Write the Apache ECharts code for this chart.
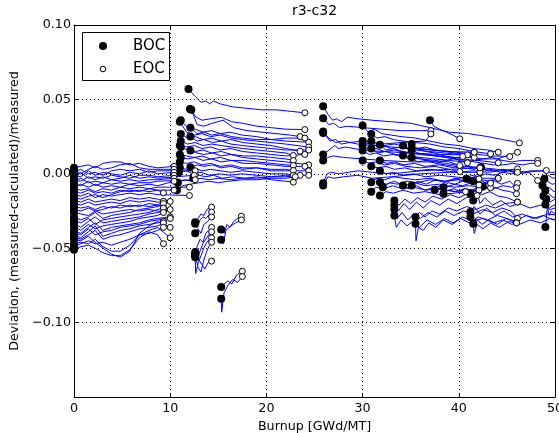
<!DOCTYPE html>
<html>
<head>
<meta charset="utf-8">
<script src="https://cdn.jsdelivr.net/npm/echarts@6/dist/echarts.min.js"></script>
<style>html,body{margin:0;padding:0;background:#fff;overflow:hidden}#c{width:559px;height:433px}</style>
</head>
<body>
<div id="c"></div>
<script>
// ---- data: each line is a list of [burnup (GWd/MT), deviation] ----
const titleText = 'r3-c32';
const legendNames = ['BOC', 'EOC'];
const xTicks = [0, 10, 20, 30, 40, 50];
const yTicks = [-0.15, -0.10, -0.05, 0.00, 0.05, 0.10];

const cycle1 = [
 [[0,0.004],[0.7,0.005],[1.5,0.006],[2.2,0.004],[3.0,0.007],[3.9,0.008],[4.8,0.008],[5.8,0.006],[6.8,0.007],[7.8,0.005],[8.7,0.004],[10.4,0.005]],
 [[0,0.002],[0.7,0.000],[1.5,0.003],[2.2,0.005],[3.0,0.003],[3.9,0.004],[4.8,0.006],[5.8,0.007],[6.8,0.004],[7.8,0.003],[8.7,0.003],[10.4,0.003]],
 [[0,0.001],[0.7,0.003],[1.5,0.000],[2.2,0.001],[3.0,-0.001],[3.9,0.002],[4.8,0.003],[5.8,0.002],[6.8,0.003],[7.8,0.001],[8.7,0.002],[12.6,0.002]],
 [[0,-0.001],[0.7,-0.002],[1.5,0.002],[2.2,-0.001],[3.0,0.001],[3.9,0.000],[4.8,-0.001],[5.8,0.001],[6.8,0.000],[7.8,0.002],[8.7,0.000],[10.4,0.001]],
 [[0,-0.002],[0.7,0.001],[1.5,-0.003],[2.2,-0.002],[3.0,-0.003],[3.9,-0.001],[4.8,-0.002],[5.8,-0.003],[6.8,-0.001],[7.8,-0.001],[8.7,-0.002],[10.4,-0.001]],
 [[0,-0.004],[0.7,-0.005],[1.5,-0.002],[2.2,-0.004],[3.0,-0.002],[3.9,-0.004],[4.8,-0.003],[5.8,-0.001],[6.8,-0.003],[7.8,-0.002],[8.7,-0.003],[12.5,-0.001]],
 [[0,-0.005],[0.7,-0.003],[1.5,-0.006],[2.2,-0.005],[3.0,-0.006],[3.9,-0.004],[4.8,-0.005],[5.8,-0.004],[6.8,-0.005],[7.8,-0.004],[8.7,-0.004],[10.4,-0.003]],
 [[0,-0.007],[0.7,-0.008],[1.5,-0.005],[2.2,-0.008],[3.0,-0.006],[3.9,-0.007],[4.8,-0.006],[5.8,-0.007],[6.8,-0.006],[7.8,-0.006],[8.7,-0.005],[12.6,-0.004]],
 [[0,-0.009],[0.7,-0.007],[1.5,-0.009],[2.2,-0.007],[3.0,-0.009],[3.9,-0.008],[4.8,-0.009],[5.8,-0.007],[6.8,-0.008],[7.8,-0.007],[8.7,-0.008],[10.4,-0.005]],
 [[0,-0.010],[0.7,-0.011],[1.5,-0.010],[2.2,-0.012],[3.0,-0.010],[3.9,-0.011],[4.8,-0.009],[5.8,-0.010],[6.8,-0.009],[7.8,-0.010],[8.7,-0.009],[12.0,-0.009]],
 [[0,-0.012],[0.7,-0.013],[1.5,-0.011],[2.2,-0.013],[3.0,-0.012],[3.9,-0.013],[4.8,-0.011],[5.8,-0.012],[6.8,-0.011],[7.8,-0.012],[8.7,-0.011],[10.4,-0.011]],
 [[0,-0.014],[0.7,-0.015],[1.5,-0.013],[2.2,-0.016],[3.0,-0.014],[3.9,-0.015],[4.8,-0.014],[5.8,-0.013],[6.8,-0.014],[7.8,-0.013],[8.7,-0.014],[12.0,-0.0146]],
 [[0,-0.016],[0.7,-0.017],[1.5,-0.015],[2.2,-0.014],[3.0,-0.016],[3.9,-0.014],[4.8,-0.012],[5.8,-0.011],[6.8,-0.012],[7.8,-0.010],[8.7,-0.011],[9.3,-0.0128]],
 [[0,-0.018],[0.7,-0.019],[1.5,-0.017],[2.2,-0.019],[3.0,-0.018],[3.9,-0.017],[4.8,-0.018],[5.8,-0.016],[6.8,-0.017],[7.8,-0.016],[8.7,-0.017],[9.3,-0.0186]],
 [[0,-0.020],[0.7,-0.021],[1.5,-0.019],[2.2,-0.021],[3.0,-0.020],[3.9,-0.019],[4.8,-0.020],[5.8,-0.018],[6.8,-0.019],[7.8,-0.018],[8.7,-0.019],[10.0,-0.0186]],
 [[0,-0.022],[0.7,-0.023],[1.5,-0.022],[2.2,-0.024],[3.0,-0.022],[3.9,-0.023],[4.8,-0.021],[5.8,-0.022],[6.8,-0.021],[7.8,-0.022],[8.7,-0.021],[9.3,-0.0228]],
 [[0,-0.024],[0.7,-0.025],[1.5,-0.023],[2.2,-0.025],[3.0,-0.024],[3.9,-0.022],[4.8,-0.023],[5.8,-0.021],[6.8,-0.022],[7.8,-0.020],[8.7,-0.021],[9.3,-0.0186]],
 [[0,-0.026],[0.7,-0.027],[1.5,-0.028],[2.2,-0.025],[3.0,-0.027],[3.9,-0.026],[4.8,-0.025],[5.8,-0.024],[6.8,-0.025],[7.8,-0.024],[8.7,-0.025],[9.3,-0.0257]],
 [[0,-0.029],[0.7,-0.031],[1.5,-0.029],[2.2,-0.026],[3.0,-0.030],[3.9,-0.028],[4.8,-0.027],[5.8,-0.026],[6.8,-0.024],[7.8,-0.023],[8.7,-0.022],[9.3,-0.020]],
 [[0,-0.031],[0.7,-0.033],[1.5,-0.030],[2.2,-0.034],[3.0,-0.031],[3.9,-0.030],[4.8,-0.029],[5.8,-0.028],[6.8,-0.027],[7.8,-0.026],[8.7,-0.024],[9.3,-0.023]],
 [[0,-0.033],[0.7,-0.036],[1.5,-0.032],[2.2,-0.029],[3.0,-0.033],[3.9,-0.032],[4.8,-0.031],[5.8,-0.030],[6.8,-0.029],[7.8,-0.027],[8.7,-0.026],[10.0,-0.024]],
 [[0,-0.035],[0.7,-0.038],[1.5,-0.034],[2.2,-0.037],[3.0,-0.035],[3.9,-0.034],[4.8,-0.033],[5.8,-0.032],[6.8,-0.030],[7.8,-0.029],[8.7,-0.028],[9.3,-0.026]],
 [[0,-0.038],[0.7,-0.040],[1.5,-0.036],[2.2,-0.033],[3.0,-0.038],[3.9,-0.036],[4.8,-0.035],[5.8,-0.034],[6.8,-0.033],[7.8,-0.031],[8.7,-0.030],[10.0,-0.029]],
 [[0,-0.0395],[0.7,-0.041],[1.5,-0.037],[2.2,-0.041],[3.0,-0.039],[3.9,-0.038],[4.8,-0.036],[5.8,-0.035],[6.8,-0.034],[7.8,-0.032],[8.7,-0.031],[10.0,-0.030]],
 [[0,-0.041],[0.7,-0.043],[1.5,-0.039],[2.2,-0.035],[3.0,-0.042],[3.9,-0.040],[4.8,-0.038],[5.8,-0.037],[6.8,-0.035],[7.8,-0.034],[8.7,-0.033],[9.3,-0.032]],
 [[0,-0.0425],[0.7,-0.044],[1.5,-0.041],[2.2,-0.038],[3.0,-0.044],[3.9,-0.042],[4.8,-0.041],[5.8,-0.039],[6.8,-0.037],[7.8,-0.036],[8.7,-0.035],[9.3,-0.033]],
 [[0,-0.044],[0.7,-0.045],[1.5,-0.042],[2.2,-0.046],[3.0,-0.050],[3.9,-0.054],[4.8,-0.056],[5.8,-0.052],[6.8,-0.040],[7.8,-0.035],[8.7,-0.032],[10.0,-0.036]],
 [[0,-0.047],[0.7,-0.046],[1.5,-0.047],[2.2,-0.044],[3.0,-0.049],[3.9,-0.052],[4.8,-0.052],[5.8,-0.048],[6.8,-0.041],[7.8,-0.038],[8.7,-0.036],[10.0,-0.043]],
 [[0,-0.049],[0.7,-0.047],[1.5,-0.045],[2.2,-0.047],[3.0,-0.046],[3.9,-0.048],[4.8,-0.046],[5.8,-0.044],[6.8,-0.041],[7.8,-0.040],[8.7,-0.038],[9.3,-0.036]],
 [[0,-0.051],[0.7,-0.049],[1.5,-0.048],[2.2,-0.050],[3.0,-0.053],[3.9,-0.055],[4.8,-0.055],[5.8,-0.051],[6.8,-0.043],[7.8,-0.039],[8.7,-0.041],[9.3,-0.047]]
];

const cycle2a = [
 [[11.9,0.057],[12.6,0.052],[13.2,0.048],[13.7,0.049],[14.1,0.047],[14.5,0.049],[15.2,0.047],[16.5,0.045],[18,0.044],[19.5,0.043],[21,0.043],[22.5,0.042],[24.0,0.041]],
 [[12.05,0.0436],[12.7,0.038],[13.3,0.036],[14.2,0.037],[15.3,0.038],[16.4,0.035],[17.5,0.034],[19,0.032],[20.5,0.031],[22,0.030],[24.0,0.0297]],
 [[12.2,0.043],[12.8,0.033],[13.5,0.032],[14.4,0.034],[15.5,0.036],[16.6,0.031],[18,0.029],[19.5,0.028],[21,0.027],[22.5,0.026],[23.5,0.025]],
 [[11.1,0.036],[11.8,0.031],[12.6,0.030],[13.4,0.028],[14.3,0.029],[15.2,0.027],[16.2,0.028],[17.5,0.026],[19,0.025],[20.5,0.023],[22,0.022],[24.4,0.0212]],
 [[11.0,0.035],[11.7,0.028],[12.5,0.026],[13.3,0.027],[14.2,0.025],[15.2,0.026],[16.3,0.024],[17.5,0.023],[19,0.022],[20.5,0.021],[22,0.020],[24.4,0.018]],
 [[12.1,0.031],[12.8,0.027],[13.5,0.028],[14.3,0.026],[15.2,0.027],[16.4,0.025],[17.5,0.024],[19,0.023],[20.5,0.023],[22,0.024],[24.0,0.024]],
 [[11.1,0.0268],[11.8,0.024],[12.6,0.025],[13.4,0.023],[14.3,0.024],[15.3,0.022],[16.3,0.023],[17.6,0.021],[19,0.020],[20.5,0.019],[22,0.017],[23.5,0.0152]],
 [[12.1,0.025],[12.8,0.022],[13.5,0.023],[14.4,0.021],[15.3,0.022],[16.3,0.020],[17.5,0.019],[19,0.018],[20.5,0.017],[22,0.016],[24.4,0.016]],
 [[11.1,0.022],[11.8,0.020],[12.6,0.021],[13.4,0.019],[14.3,0.020],[15.3,0.019],[16.4,0.018],[17.6,0.017],[19,0.016],[20.5,0.015],[22,0.014],[22.8,0.0123]],
 [[11.0,0.019],[11.7,0.018],[12.5,0.019],[13.3,0.017],[14.2,0.018],[15.2,0.016],[16.3,0.017],[17.5,0.015],[19,0.014],[20.5,0.013],[22,0.012],[24.0,0.013]],
 [[11.1,0.018],[11.8,0.016],[12.6,0.015],[13.4,0.016],[14.3,0.014],[15.3,0.015],[16.4,0.013],[17.6,0.012],[19,0.012],[20.5,0.011],[22,0.010],[22.8,0.0089]],
 [[12.1,0.0156],[12.8,0.014],[13.5,0.013],[14.4,0.014],[15.3,0.012],[16.3,0.013],[17.5,0.011],[19,0.010],[20.5,0.009],[22,0.008],[24.4,0.006]],
 [[11.0,0.013],[11.7,0.012],[12.5,0.011],[13.3,0.012],[14.2,0.010],[15.2,0.011],[16.3,0.009],[17.5,0.009],[19,0.008],[20.5,0.007],[22,0.006],[22.8,0.0056]],
 [[11.1,0.011],[11.8,0.010],[12.6,0.011],[13.4,0.009],[14.3,0.010],[15.3,0.008],[16.4,0.009],[17.6,0.007],[19,0.007],[20.5,0.006],[22,0.005],[24.0,0.005]],
 [[11.0,0.008],[11.7,0.007],[12.5,0.008],[13.3,0.006],[14.2,0.007],[15.2,0.005],[16.3,0.006],[17.5,0.004],[19,0.004],[20.5,0.003],[22,0.003],[22.8,0.0022]],
 [[12.1,0.0044],[12.8,0.006],[13.5,0.005],[14.4,0.006],[15.3,0.004],[16.3,0.005],[17.5,0.003],[19,0.004],[20.5,0.002],[22,0.002],[24.4,0.002]],
 [[11.0,0.004],[11.7,0.003],[12.5,0.004],[13.3,0.002],[14.2,0.003],[15.2,0.002],[16.3,0.001],[17.5,0.002],[19,0.001],[20.5,0.000],[22,0.000],[22.8,-0.001]],
 [[10.9,0.001],[11.6,0.002],[12.4,0.000],[13.2,0.001],[14.1,-0.001],[15.1,0.000],[16.2,-0.001],[17.4,0.000],[19,-0.001],[20.5,-0.002],[22,-0.001],[24.4,-0.001]],
 [[12.4,-0.003],[13.0,-0.001],[13.7,-0.002],[14.5,-0.001],[15.4,-0.003],[16.5,-0.002],[17.8,-0.003],[19,-0.002],[20.5,-0.004],[22,-0.005],[22.8,-0.0056]],
 [[10.8,-0.006],[11.5,-0.004],[12.3,-0.005],[13.1,-0.003],[14.0,-0.004],[15.0,-0.003],[16.2,-0.004],[17.4,-0.003],[19,-0.003],[20.5,-0.002],[22,-0.002],[23.5,-0.001]],
 [[10.7,-0.011],[11.3,-0.008],[12.1,-0.007],[13.0,-0.006],[14,-0.005],[15,-0.006],[16,-0.005],[17.5,-0.004],[19,-0.004],[20.5,-0.003],[22,-0.003],[23.0,-0.002]]
];

const cycle2b = [
 [[12.6,-0.0325],[12.9,-0.030],[13.2,-0.027],[13.5,-0.028],[13.8,-0.024],[14.3,-0.0224]],
 [[12.6,-0.0335],[12.8,-0.036],[13.1,-0.031],[13.4,-0.029],[13.7,-0.030],[14.3,-0.0257]],
 [[12.6,-0.040],[12.9,-0.037],[13.2,-0.040],[13.5,-0.034],[13.9,-0.032],[14.3,-0.029]],
 [[12.6,-0.0526],[12.85,-0.048],[13.1,-0.044],[13.4,-0.046],[13.7,-0.040],[14.0,-0.038],[14.3,-0.036]],
 [[12.6,-0.054],[12.8,-0.058],[13.1,-0.052],[13.4,-0.047],[13.7,-0.044],[14.0,-0.041],[14.3,-0.039]],
 [[12.6,-0.056],[12.65,-0.067],[12.9,-0.060],[13.2,-0.055],[13.5,-0.050],[13.8,-0.046],[14.3,-0.043]],
 [[12.6,-0.055],[12.9,-0.063],[13.2,-0.066],[13.5,-0.058],[13.8,-0.052],[14.1,-0.048],[14.3,-0.046]],
 [[12.6,-0.0545],[12.9,-0.057],[13.3,-0.061],[13.6,-0.064],[13.9,-0.060],[14.3,-0.0587]]
];

const cycle2c = [
 [[15.3,-0.0374],[15.6,-0.040],[15.9,-0.034],[16.2,-0.036],[16.6,-0.032],[17.0,-0.030],[17.4,-0.0285]],
 [[15.3,-0.0443],[15.5,-0.047],[15.8,-0.038],[16.3,-0.035],[16.8,-0.033],[17.4,-0.031]],
 [[15.3,-0.076],[15.6,-0.074],[16.0,-0.072],[16.4,-0.074],[16.9,-0.068],[17.5,-0.0655]],
 [[15.3,-0.0839],[15.35,-0.093],[15.6,-0.080],[16.0,-0.075],[16.5,-0.071],[17.0,-0.073],[17.5,-0.069]]
];

const cycle3a = [
 [[25.9,0.0454],[26.4,0.040],[26.9,0.036],[27.3,0.037],[27.8,0.035],[28.4,0.038],[29.5,0.037],[31,0.036],[33,0.035],[35,0.034],[37,0.031],[39,0.028],[41,0.027],[43,0.025],[46.3,0.0208]],
 [[25.9,0.0373],[26.5,0.033],[27.0,0.034],[27.6,0.031],[28.4,0.032],[30,0.031],[32,0.030],[34,0.029],[36,0.029],[37.1,0.029]],
 [[25.9,0.0284],[26.6,0.022],[27.2,0.023],[27.8,0.020],[28.6,0.021],[30,0.022],[32,0.020],[34,0.021],[36.5,0.022],[37.1,0.0268]],
 [[25.9,0.0275],[26.5,0.024],[27.2,0.021],[28,0.022],[29.5,0.020],[31,0.019],[33,0.018],[35,0.017],[37,0.016],[39,0.015],[41.6,0.0145]],
 [[25.9,0.013],[26.5,0.016],[27.1,0.019],[27.5,0.017],[28.2,0.018],[30,0.016],[32,0.015],[35,0.014],[38,0.013],[40.9,0.0127]],
 [[25.9,0.009],[26.4,0.011],[27,0.012],[28,0.011],[30,0.010],[32,0.009],[35,0.008],[38,0.008],[40.4,0.0116]],
 [[25.9,-0.0063],[26.3,0.000],[26.8,0.001],[27.5,0.000],[28.5,0.001],[29.5,0.002],[31,0.001],[33,0.000],[36,0.002],[39,0.003],[42.2,0.004]],
 [[25.9,-0.0078],[26.4,-0.002],[27,-0.003],[28,-0.002],[29.5,-0.001],[31,-0.003],[33,-0.002],[36,0.000],[39,0.001],[42.2,0.001]]
];

const cycle3b = [
 [[30.0,0.0324],[30.6,0.028],[31.2,0.030],[32,0.027],[33,0.026],[34,0.025],[35.5,0.024],[37,0.022],[38.5,0.020],[40,0.019],[41.5,0.017],[43,0.016],[44.1,0.0145]],
 [[30.9,0.0268],[31.5,0.024],[32.3,0.025],[33.2,0.023],[34.2,0.022],[35.5,0.021],[37,0.020],[38.5,0.018],[40,0.017],[41.5,0.015],[43.3,0.0134]],
 [[30.0,0.022],[30.6,0.020],[31.3,0.021],[32.2,0.019],[33.3,0.020],[34.5,0.018],[36,0.017],[37.5,0.016],[39,0.015],[40.5,0.014],[42,0.013],[43.5,0.012],[45.3,0.0116]],
 [[30.9,0.022],[31.5,0.018],[32.2,0.019],[33,0.017],[34,0.018],[35.5,0.016],[37,0.015],[38.5,0.014],[40,0.013],[41.6,0.011]],
 [[30.0,0.019],[30.7,0.016],[31.4,0.017],[32.3,0.015],[33.3,0.016],[34.5,0.014],[36,0.013],[37.5,0.012],[39,0.011],[40.9,0.0074]],
 [[30.0,0.0156],[30.7,0.013],[31.4,0.014],[32.2,0.012],[33.2,0.013],[34.5,0.011],[36,0.010],[37.5,0.009],[39,0.008],[40.1,0.0056]],
 [[30.9,0.017],[31.6,0.014],[32.4,0.015],[33.4,0.013],[34.5,0.012],[36,0.011],[37.5,0.010],[39,0.009],[40.5,0.008],[42,0.009],[44.1,0.0074]],
 [[31.8,0.0195],[32.4,0.016],[33.2,0.017],[34.2,0.015],[35.3,0.014],[36.5,0.013],[38,0.012],[39.5,0.011],[41,0.011],[42.5,0.010],[44,0.010],[46.1,0.0145]],
 [[30.0,0.009],[30.7,0.007],[31.4,0.008],[32.3,0.006],[33.3,0.007],[34.5,0.005],[36,0.004],[37.5,0.005],[39,0.003],[40.1,0.0015]],
 [[30.9,0.005],[31.6,0.004],[32.4,0.005],[33.3,0.003],[34.4,0.004],[35.6,0.002],[37,0.003],[38.5,0.002],[40,0.001],[41.5,0.002],[43,0.001],[46.1,0.0033]],
 [[31.8,0.009],[32.5,0.007],[33.3,0.008],[34.3,0.006],[35.4,0.007],[36.5,0.005],[38,0.006],[39.5,0.004],[41,0.005],[42.5,0.004],[44,0.003],[46.1,0.001]],
 [[31.8,0.002],[32.4,0.000],[33.2,0.001],[34.2,-0.001],[35.3,0.000],[36.5,-0.002],[38,-0.001],[39.5,-0.002],[41,-0.003],[42.5,-0.003],[44.1,-0.003]],
 [[30.9,-0.0056],[31.5,-0.003],[32.3,-0.004],[33.2,-0.002],[34.2,-0.003],[35.5,-0.004],[37,-0.003],[38.5,-0.005],[40,-0.004],[41.5,-0.006],[43.3,-0.0063]],
 [[31.8,-0.0056],[32.5,-0.007],[33.3,-0.005],[34.3,-0.008],[35.4,-0.006],[36.5,-0.008],[38,-0.007],[39.5,-0.009],[41,-0.008],[43.3,-0.0094]],
 [[30.9,-0.012],[31.4,-0.009],[32.2,-0.010],[33.1,-0.008],[34.1,-0.010],[35.3,-0.009],[36.6,-0.011],[38,-0.010],[39.5,-0.012],[40.5,-0.011],[42.1,-0.011]],
 [[31.8,-0.0146],[32.4,-0.012],[33.2,-0.013],[34.2,-0.011],[35.3,-0.013],[36.5,-0.012],[38,-0.014],[39.5,-0.013],[40.7,-0.012]],
 [[32.1,-0.009],[32.8,-0.006],[33.6,-0.007],[34.6,-0.005],[35.7,-0.006],[37,-0.004],[38.5,-0.005],[40,-0.003],[41,-0.002],[42.1,-0.0034]]
];

const cycle3c = [
 [[33.3,-0.018],[33.8,-0.021],[34.4,-0.017],[35,-0.020],[35.7,-0.016],[36.5,-0.019],[37.3,-0.015],[38.2,-0.017],[39.1,-0.014],[40,-0.016],[41,-0.013],[42.1,-0.011]],
 [[33.3,-0.021],[33.7,-0.025],[34.3,-0.020],[34.9,-0.024],[35.6,-0.019],[36.3,-0.023],[37.1,-0.018],[38,-0.021],[38.9,-0.017],[39.8,-0.020],[40.8,-0.016],[41.9,-0.0146]],
 [[33.3,-0.024],[33.6,-0.030],[34.1,-0.026],[34.7,-0.031],[35.3,-0.027],[36,-0.030],[36.8,-0.026],[37.7,-0.029],[38.6,-0.025],[39.5,-0.028],[40.5,-0.025],[41.5,-0.027],[42.5,-0.024],[43.5,-0.026],[44.5,-0.023],[45.4,-0.025],[46.1,-0.030]],
 [[33.3,-0.028],[33.5,-0.036],[34,-0.031],[34.6,-0.035],[35.2,-0.032],[35.9,-0.036],[36.7,-0.031],[37.6,-0.034],[38.5,-0.030],[39.4,-0.033],[40.4,-0.029],[41.5,-0.032],[42.5,-0.030],[43.6,-0.033],[44.6,-0.031],[45.5,-0.034],[46.0,-0.033]],
 [[35.5,-0.029],[35.9,-0.026],[36.5,-0.029],[37.2,-0.025],[38,-0.027],[38.9,-0.023],[39.8,-0.025],[40.8,-0.022],[41.8,-0.024],[42.8,-0.021],[43.8,-0.023],[44.8,-0.020],[46.1,-0.019]],
 [[35.5,-0.0336],[35.55,-0.045],[35.8,-0.036],[36.3,-0.038],[36.9,-0.033],[37.6,-0.036],[38.4,-0.031],[39.3,-0.034],[40.2,-0.030],[41.1,-0.033],[42,-0.029],[43,-0.031],[44,-0.028],[45,-0.030],[46.0,-0.033]],
 [[34.2,-0.0078],[34.8,-0.010],[35.6,-0.008],[36.5,-0.011],[37.5,-0.009],[38.5,-0.012],[39.5,-0.010],[40.5,-0.013],[41.5,-0.011],[42.1,-0.0075]],
 [[35.1,-0.0078],[35.7,-0.005],[36.6,-0.007],[37.6,-0.004],[38.6,-0.006],[39.6,-0.003],[40.6,-0.005],[41.6,-0.002],[42.2,0.001]]
];

const cycle3d = [
 [[34.2,0.019],[34.8,0.016],[35.6,0.017],[36.5,0.015],[37.5,0.014],[38.5,0.012],[39.5,0.011],[40.5,0.010],[41.5,0.009],[42.5,0.010],[43.5,0.011],[44.5,0.009],[45.5,0.008],[46.5,0.009],[48.2,0.009]],
 [[35.1,0.020],[35.7,0.017],[36.5,0.018],[37.5,0.016],[38.5,0.015],[39.5,0.014],[40.5,0.013],[41.6,0.0145]],
 [[35.1,0.0164],[35.7,0.014],[36.6,0.013],[37.6,0.012],[38.6,0.011],[39.6,0.010],[40.6,0.009],[41.6,0.008],[42.6,0.007],[43.6,0.006],[44.6,0.006],[45.6,0.007],[46.6,0.006],[47.5,0.007],[48.2,0.007]],
 [[34.2,0.0123],[34.8,0.010],[35.7,0.011],[36.6,0.009],[37.6,0.008],[38.6,0.007],[39.6,0.006],[40.6,0.005],[41.6,0.004],[42.6,0.003],[43.6,0.002],[44.6,0.003],[45.6,0.002],[47,0.001],[48.5,0.002],[49.1,0.0022]],
 [[35.1,0.011],[35.7,0.008],[36.6,0.009],[37.6,0.007],[38.6,0.006],[39.6,0.005],[40.6,0.004],[41.6,0.003],[42.2,0.004]]
];

const cycle4 = [
 [[37.0,0.036],[37.4,0.032],[38,0.030],[38.7,0.028],[39.4,0.026],[40.1,0.0235]],
 [[37.5,-0.0107],[38,-0.008],[38.7,-0.009],[39.5,-0.007],[40.4,-0.008],[41.3,-0.006],[42.3,-0.007],[43.3,-0.0063]],
 [[38.4,-0.009],[38.9,-0.006],[39.6,-0.007],[40.4,-0.005],[41.3,-0.006],[42.3,-0.004],[43.3,-0.005],[44.1,-0.003]],
 [[38.4,-0.0134],[38.9,-0.011],[39.7,-0.012],[40.6,-0.010],[41.6,-0.011],[42.6,-0.009],[43.6,-0.010],[44.6,-0.008],[45.5,-0.009],[46.1,-0.0063]],
 [[40.8,-0.0034],[41.3,-0.001],[42,-0.002],[42.8,0.000],[43.7,-0.001],[44.6,0.001],[45.5,0.000],[46.5,0.001],[47.5,0.002],[48.5,0.002],[49.5,0.001],[50.5,0.001]],
 [[41.5,-0.005],[42,-0.003],[42.7,-0.006],[43.5,-0.004],[44.4,-0.007],[45.3,-0.005],[46,-0.0094]],
 [[42.3,0.0044],[42.8,0.002],[43.5,0.003],[44.3,0.001],[45.2,0.002],[46.2,0.000],[47.3,0.001],[48.2,-0.0045]],
 [[42.5,-0.0085],[43,-0.010],[43.7,-0.009],[44.5,-0.011],[45.3,-0.012],[46,-0.0134]],
 [[41.2,-0.0134],[41.7,-0.011],[42.4,-0.014],[43.2,-0.012],[44.1,-0.015],[45,-0.016],[46.1,-0.019]],
 [[41.5,-0.018],[41.9,-0.013],[42.2,-0.020],[42.7,-0.016],[43.5,-0.021],[44.4,-0.018],[45.3,-0.022],[46.3,-0.020],[47.4,-0.023],[48.5,-0.021],[49.5,-0.024],[50.5,-0.022]],
 [[41.2,-0.0257],[41.6,-0.022],[42.2,-0.027],[42.9,-0.023],[43.8,-0.028],[44.7,-0.025],[45.6,-0.029],[46.6,-0.027],[47.7,-0.030],[48.8,-0.028],[49.8,-0.031],[50.5,-0.029]],
 [[41.2,-0.029],[41.4,-0.035],[41.8,-0.030],[42.4,-0.034],[43.1,-0.031],[44,-0.034],[44.9,-0.030],[45.9,-0.032],[47,-0.028],[48.1,-0.030],[49.2,-0.027],[50.5,-0.028]],
 [[41.5,-0.0336],[41.6,-0.040],[41.9,-0.034],[42.5,-0.037],[43.3,-0.033],[44.2,-0.036],[45.2,-0.032],[46.3,-0.034],[47.4,-0.031],[48.5,-0.033],[49.5,-0.030],[50.5,-0.032]]
];

const cycle5 = [
 [[48.9,-0.0034],[49.3,-0.001],[49.8,-0.003],[50.5,-0.002]],
 [[48.7,-0.0078],[49.2,-0.005],[49.7,-0.007],[50.5,-0.006]],
 [[49.0,-0.011],[49.4,-0.009],[49.9,-0.012],[50.5,-0.010]],
 [[48.8,-0.015],[49.3,-0.013],[49.8,-0.016],[50.5,-0.014]],
 [[49.1,-0.017],[49.5,-0.019],[50.0,-0.017],[50.5,-0.018]],
 [[49.0,-0.0206],[49.4,-0.023],[49.9,-0.021],[50.5,-0.022]],
 [[49.0,-0.0358],[49.1,-0.030],[49.2,-0.022],[49.4,-0.028],[49.6,-0.025],[50.0,-0.027],[50.5,-0.026]]
];

// ---- build ----
const allLines = [].concat(cycle1, cycle2a, cycle2b, cycle2c, cycle3a, cycle3b, cycle3c, cycle3d, cycle4, cycle5);
const xMax = xTicks[xTicks.length - 1];
const bocPoints = allLines.map(l => l[0]).filter(p => p[0] <= xMax);
const eocPoints = allLines.map(l => l[l.length - 1]).filter(p => p[0] <= xMax);

const FONT = 'DejaVu Sans';
const fmtY = v => {
  if (Math.abs(v - yTicks[0]) < 1e-9) return '';
  const s = Math.abs(v).toFixed(2);
  return v < -1e-9 ? '\u2212' + s : s;
};

const series = allLines.map(l => ({
  type: 'line', data: l, symbol: 'none', xAxisIndex: 0, yAxisIndex: 0,
  lineStyle: { color: '#0000ff', width: 1 }, silent: true, z: 2, clip: true
}));
series.push({
  name: legendNames[0], type: 'scatter', data: bocPoints, symbol: 'circle', symbolSize: 8,
  xAxisIndex: 0, yAxisIndex: 0, itemStyle: { color: '#000', opacity: 1 }, z: 4
});
series.push({
  name: legendNames[1], type: 'scatter', data: eocPoints, symbol: 'circle', symbolSize: 6,
  xAxisIndex: 0, yAxisIndex: 0, itemStyle: { color: '#fff', borderColor: '#000', borderWidth: 1, opacity: 1 }, z: 5
});

const axisCommonX = { type: 'value', min: xTicks[0], max: xMax, interval: 10 };
const axisCommonY = { type: 'value', min: yTicks[0], max: yTicks[yTicks.length - 1], interval: 0.05 };

// legend box (matplotlib-style, upper left inside the axes)
const legendGraphic = [
  { type: 'rect', left: 82, top: 32, z: 100,
    shape: { width: 87, height: 48 },
    style: { fill: '#fff', stroke: '#000', lineWidth: 1 } },
  { type: 'circle', z: 101, shape: { cx: 103, cy: 46, r: 4 },
    style: { fill: '#000', stroke: '#000', lineWidth: 0 } },
  { type: 'text', z: 101, x: 133, y: 46,
    style: { text: legendNames[0], fill: '#000', font: '15px "DejaVu Sans"', verticalAlign: 'middle', align: 'left' } },
  { type: 'circle', z: 101, shape: { cx: 103, cy: 69, r: 2.8 },
    style: { fill: '#fff', stroke: '#000', lineWidth: 1 } },
  { type: 'text', z: 101, x: 133, y: 69,
    style: { text: legendNames[1], fill: '#000', font: '15px "DejaVu Sans"', verticalAlign: 'middle', align: 'left' } },
  { type: 'text', z: 101, x: 314.5, y: 11,
    style: { text: titleText, fill: '#000', font: '14px "DejaVu Sans"', verticalAlign: 'middle', align: 'center' } }
];

const chart = echarts.init(document.getElementById('c'), null, { renderer: 'canvas' });
chart.setOption({
  animation: false,
  backgroundColor: '#fff',
  textStyle: { fontFamily: FONT },
  grid: { left: 74, right: 4, top: 25, bottom: 36, containLabel: false, outerBoundsMode: 'none' },
  graphic: legendGraphic,
  xAxis: [
    Object.assign({}, axisCommonX, {
      position: 'bottom',
      name: 'Burnup [GWd/MT]', nameLocation: 'middle', nameGap: 21,
      nameTextStyle: { fontFamily: FONT, fontSize: 12.7, color: '#000' },
      axisLine: { show: true, onZero: false, lineStyle: { color: '#000', width: 1 } },
      axisTick: { show: true, inside: true, length: 4, lineStyle: { color: '#000' } },
      axisLabel: { color: '#000', fontSize: 12.7, fontFamily: FONT, margin: 5, showMaxLabel: true },
      splitLine: { show: true, lineStyle: { color: '#000', type: [1, 3], width: 1 } }
    }),
    Object.assign({}, axisCommonX, {
      position: 'top',
      axisLine: { show: true, onZero: false, lineStyle: { color: '#000', width: 1 } },
      axisTick: { show: true, inside: true, length: 4, lineStyle: { color: '#000' } },
      axisLabel: { show: false }, splitLine: { show: false }
    })
  ],
  yAxis: [
    Object.assign({}, axisCommonY, {
      position: 'left',
      name: 'Deviation, (measured-calculated)/measured', nameLocation: 'middle', nameGap: 47,
      nameTextStyle: { fontFamily: FONT, fontSize: 12.7, color: '#000' },
      axisLine: { show: true, onZero: false, lineStyle: { color: '#000', width: 1 } },
      axisTick: { show: true, inside: true, length: 4, lineStyle: { color: '#000' } },
      axisLabel: { color: '#000', fontSize: 12.7, fontFamily: FONT, margin: 3, formatter: fmtY },
      splitLine: { show: true, lineStyle: { color: '#000', type: [1, 3], width: 1 } }
    }),
    Object.assign({}, axisCommonY, {
      position: 'right',
      axisLine: { show: true, onZero: false, lineStyle: { color: '#000', width: 1 } },
      axisTick: { show: true, inside: true, length: 4, lineStyle: { color: '#000' } },
      axisLabel: { show: false }, splitLine: { show: false }
    })
  ],
  series: series
});
</script>
</body>
</html>
